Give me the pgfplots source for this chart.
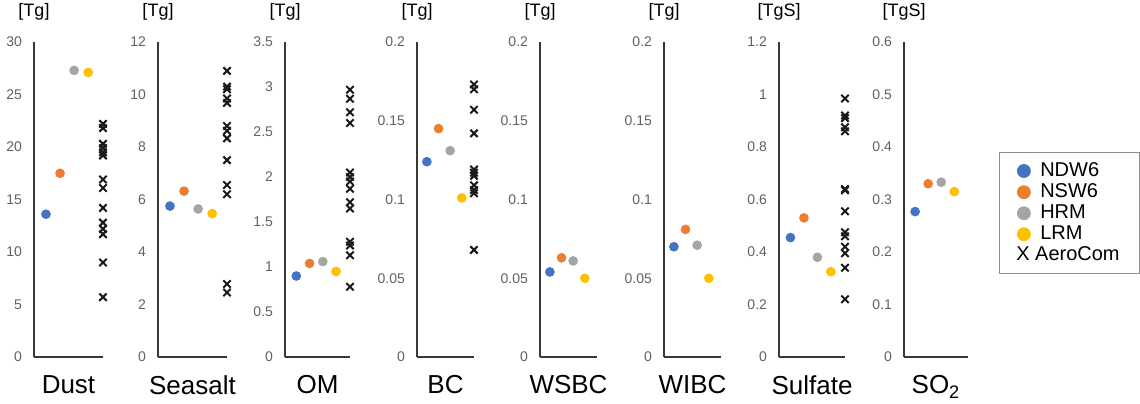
\documentclass[border=0pt]{standalone}
\usepackage{pgfplots}
\pgfplotsset{compat=1.18}
\usepackage{fontspec}
\setmainfont{Liberation Sans}
\definecolor{cBlue}{HTML}{4472C4}
\definecolor{cOrange}{HTML}{ED7D31}
\definecolor{cGray}{HTML}{A5A5A5}
\definecolor{cYellow}{HTML}{FFC000}
\pgfplotsset{
  panel/.style={
    scale only axis, height=157.5pt,
    axis lines=left,
    axis line style={-, draw=black!78, line width=0.8pt},
    xtick=\empty, major tick length=0pt,
    ymin=0, xmin=0.15, xmax=5.05, clip=false,
    scaled y ticks=false,
    /pgf/number format/assume math mode=true,
    /pgf/number format/.cd, fixed, precision=2, /pgfplots/.cd,
    yticklabel style={font=\fontsize{7}{8}\selectfont, text=black!62, xshift=-2.5pt},
    title style={at={(axis description cs:0,1)}, anchor=south, xshift=0pt, yshift=4.5pt, inner sep=0pt, font=\fontsize{9}{10}\selectfont},
    xlabel style={at={(axis description cs:0.5,0)}, anchor=north, yshift=-9pt, inner sep=0pt, font=\fontsize{13}{15}\selectfont},
  },
  dot/.style={only marks, mark=*, mark size=2.2pt, mark options={draw=#1, fill=#1}},
  aero/.style={only marks, mark=x, mark size=2.6pt, line width=1pt, black!90},
}
\begin{document}
\begin{tikzpicture}
\useasboundingbox (0,0) rectangle (570pt,201.5pt);
% Dust
\begin{axis}[panel, at={(17pt,23pt)}, width=34.5pt, ymax=30, ytick={0,5,...,30}, title={[Tg]}, xlabel={Dust}]
\addplot[dot=cBlue] coordinates {(1,13.6)};
\addplot[dot=cOrange] coordinates {(2,17.5)};
\addplot[dot=cGray] coordinates {(3,27.3)};
\addplot[dot=cYellow] coordinates {(4,27.1)};
\addplot[aero] coordinates {(5.05,22.2) (5.05,21.8) (5.05,20.3) (5.05,19.9) (5.05,19.5) (5.05,19.2) (5.05,16.9) (5.05,16.1) (5.05,14.2) (5.05,12.8) (5.05,12.2) (5.05,11.7) (5.05,9.0) (5.05,5.7)};
\end{axis}
% Seasalt
\begin{axis}[panel, at={(79pt,23pt)}, width=34.5pt, ymax=12, ytick={0,2,...,12}, title={[Tg]}, xlabel={Seasalt}]
\addplot[dot=cBlue] coordinates {(1,5.75)};
\addplot[dot=cOrange] coordinates {(2,6.32)};
\addplot[dot=cGray] coordinates {(3,5.64)};
\addplot[dot=cYellow] coordinates {(4,5.46)};
\addplot[aero] coordinates {(5.05,10.9) (5.05,10.3) (5.05,10.2) (5.05,9.85) (5.05,9.68) (5.05,8.8) (5.05,8.62) (5.05,8.33) (5.05,7.5) (5.05,6.55) (5.05,6.2) (5.05,2.78) (5.05,2.46)};
\end{axis}
% OM
\begin{axis}[panel, at={(142.5pt,23pt)}, width=32.5pt, ymax=3.5, ytick={0,0.5,...,3.5}, title={[Tg]}, xlabel={OM}]
\addplot[dot=cBlue] coordinates {(1,0.9)};
\addplot[dot=cOrange] coordinates {(2,1.04)};
\addplot[dot=cGray] coordinates {(3,1.06)};
\addplot[dot=cYellow] coordinates {(4,0.95)};
\addplot[aero] coordinates {(5.05,2.97) (5.05,2.87) (5.05,2.72) (5.05,2.6) (5.05,2.05) (5.05,2.0) (5.05,1.95) (5.05,1.87) (5.05,1.72) (5.05,1.65) (5.05,1.28) (5.05,1.24) (5.05,1.13) (5.05,0.78)};
\end{axis}
% BC
\begin{axis}[panel, at={(208.5pt,23pt)}, width=28.5pt, ymax=0.2, ytick={0,0.05,0.1,0.15,0.2}, title={[Tg]}, xlabel={BC}]
\addplot[dot=cBlue] coordinates {(1,0.124)};
\addplot[dot=cOrange] coordinates {(2,0.145)};
\addplot[dot=cGray] coordinates {(3,0.131)};
\addplot[dot=cYellow] coordinates {(4,0.101)};
\addplot[aero] coordinates {(5.05,0.173) (5.05,0.170) (5.05,0.157) (5.05,0.142) (5.05,0.119) (5.05,0.117) (5.05,0.115) (5.05,0.109) (5.05,0.106) (5.05,0.104) (5.05,0.068)};
\end{axis}
% WSBC
\begin{axis}[panel, at={(270pt,23pt)}, width=28.5pt, ymax=0.2, ytick={0,0.05,0.1,0.15,0.2}, title={[Tg]}, xlabel={WSBC}]
\addplot[dot=cBlue] coordinates {(1,0.054)};
\addplot[dot=cOrange] coordinates {(2,0.063)};
\addplot[dot=cGray] coordinates {(3,0.061)};
\addplot[dot=cYellow] coordinates {(4,0.050)};
\end{axis}
% WIBC
\begin{axis}[panel, at={(332pt,23pt)}, width=28.5pt, ymax=0.2, ytick={0,0.05,0.1,0.15,0.2}, title={[Tg]}, xlabel={WIBC}]
\addplot[dot=cBlue] coordinates {(1,0.070)};
\addplot[dot=cOrange] coordinates {(2,0.081)};
\addplot[dot=cGray] coordinates {(3,0.071)};
\addplot[dot=cYellow] coordinates {(4,0.050)};
\end{axis}
% Sulfate
\begin{axis}[panel, at={(389.5pt,23pt)}, width=33pt, ymax=1.2, ytick={0,0.2,...,1.2}, title={[TgS]}, xlabel={Sulfate}]
\addplot[dot=cBlue] coordinates {(1,0.455)};
\addplot[dot=cOrange] coordinates {(2,0.53)};
\addplot[dot=cGray] coordinates {(3,0.38)};
\addplot[dot=cYellow] coordinates {(4,0.325)};
\addplot[aero] coordinates {(5.05,0.985) (5.05,0.92) (5.05,0.91) (5.05,0.875) (5.05,0.86) (5.05,0.64) (5.05,0.635) (5.05,0.555) (5.05,0.475) (5.05,0.46) (5.05,0.42) (5.05,0.395) (5.05,0.34) (5.05,0.22)};
\end{axis}
% SO2
\begin{axis}[panel, at={(452pt,23pt)}, width=32pt, ymax=0.6, ytick={0,0.1,...,0.6}, title={[TgS]}, xlabel={SO\textsubscript{2}},
  legend style={at={(axis description cs:1.484,0.651)}, anchor=north west, draw=black!45, line width=0.5pt,
    font=\fontsize{10}{12}\selectfont, nodes={inner ysep=1.05pt, inner xsep=1pt},
    inner xsep=9pt, inner ysep=4pt, row sep=0pt, column sep=4pt},
  legend cell align=left,
  legend image code/.code={\draw[#1] plot coordinates {(0pt,0pt)};},
  legend image post style={mark size=3.2pt}]
\addplot[dot=cBlue] coordinates {(1,0.277)};
\addlegendentry{NDW6}
\addplot[dot=cOrange] coordinates {(2,0.33)};
\addlegendentry{NSW6}
\addplot[dot=cGray] coordinates {(3,0.333)};
\addlegendentry{HRM}
\addplot[dot=cYellow] coordinates {(4,0.315)};
\addlegendentry{LRM}
\addlegendimage{empty legend}
\addlegendentry{\hspace*{-12pt}X AeroCom}
\end{axis}
\end{tikzpicture}
\end{document}
